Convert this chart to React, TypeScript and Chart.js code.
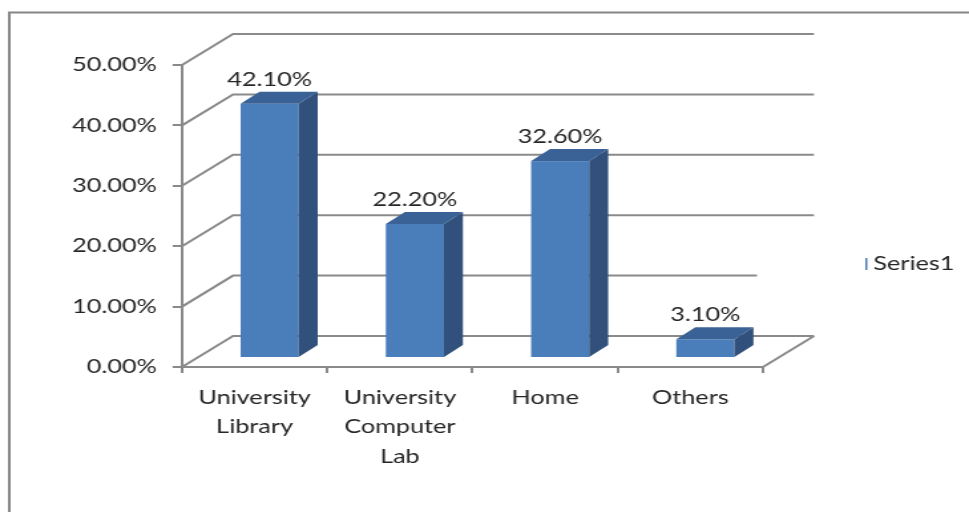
import { useEffect, useRef } from "react";
import { Chart, registerables } from "chart.js";

Chart.register(...registerables);

// Chart content
const categories: string[][] = [
  ["University", "Library"],
  ["University", "Computer", "Lab"],
  ["Home"],
  ["Others"],
];
const values: number[] = [42.1, 22.2, 32.6, 3.1];
const seriesName = "Series1";
const yMin = 0;
const yMax = 50;
const yStep = 10;

// Drawing surface: drawn narrow and widened by CSS to give the wide lettering
const CANVAS_W = 729;
const CANVAS_H = 512;
const VIEW_W = 969;
const SX = VIEW_W / CANVAS_W;

const GRID = "#8a8a8a";
const TEXT = "#262626";
const FRONT = "#4a7ebb";
const SIDE = "#31507b";
const TOP = "#3b6296";
const FONT = { family: "Lato", size: 19 };

// Perspective offsets (canvas units)
const WALL_DX = 51 / SX;
const WALL_DY = -31;
const BAR_DX = 15 / SX;
const BAR_DY = -9;
const DEPTH_DX = 19 / SX;
const DEPTH_DY = -12;

const fmtPct = (v: number) => v.toFixed(2) + "%";

const excel3d = {
  id: "excel3d",
  beforeDraw(chart: any) {
    const ctx = chart.ctx;
    ctx.save();
    ctx.fillStyle = "#ffffff";
    ctx.fillRect(0, 0, chart.width, chart.height);
    // chart frame
    ctx.strokeStyle = "#868686";
    ctx.lineWidth = 2;
    ctx.beginPath();
    ctx.moveTo(7, chart.height + 2);
    ctx.lineTo(7, 12.5);
    ctx.lineTo(chart.width + 2, 12.5);
    ctx.stroke();
    ctx.restore();
  },
  beforeDatasetsDraw(chart: any) {
    const ctx = chart.ctx;
    const { left, right, bottom } = chart.chartArea;
    const y = chart.scales.y;
    ctx.save();
    ctx.strokeStyle = GRID;
    ctx.lineWidth = 2;
    ctx.lineCap = "butt";
    // back wall gridlines and their diagonals to the front axis
    for (let v = yMin; v <= yMax; v += yStep) {
      const py = y.getPixelForValue(v);
      const backRight = v === 10 ? right - 4.5 : right + WALL_DX;
      ctx.beginPath();
      ctx.moveTo(left, py);
      ctx.lineTo(left + WALL_DX, py + WALL_DY);
      ctx.lineTo(backRight, py + WALL_DY);
      ctx.stroke();
    }
    // floor's right edge
    ctx.beginPath();
    ctx.moveTo(right, bottom);
    ctx.lineTo(right + WALL_DX, bottom + WALL_DY);
    ctx.stroke();

    // 3D bars
    const meta = chart.getDatasetMeta(0);
    meta.data.forEach((el: any, i: number) => {
      const w = el.width;
      const l = el.x - w / 2 + BAR_DX;
      const r = el.x + w / 2 + BAR_DX;
      const t = el.y + BAR_DY;
      const b = el.base + BAR_DY;
      ctx.fillStyle = FRONT;
      ctx.fillRect(l, t, r - l, b - t);
      ctx.fillStyle = SIDE;
      ctx.beginPath();
      ctx.moveTo(r, t);
      ctx.lineTo(r + DEPTH_DX, t + DEPTH_DY);
      ctx.lineTo(r + DEPTH_DX, b + DEPTH_DY);
      ctx.lineTo(r, b);
      ctx.closePath();
      ctx.fill();
      ctx.fillStyle = TOP;
      ctx.beginPath();
      ctx.moveTo(l, t);
      ctx.lineTo(l + DEPTH_DX, t + DEPTH_DY);
      ctx.lineTo(r + DEPTH_DX, t + DEPTH_DY);
      ctx.lineTo(r, t);
      ctx.closePath();
      ctx.fill();

      // value label
      ctx.fillStyle = TEXT;
      ctx.font = `${FONT.size}px ${FONT.family}`;
      ctx.textAlign = "center";
      ctx.textBaseline = "middle";
      ctx.fillText(fmtPct(values[i]), el.x + BAR_DX, t - 24);
    });
    ctx.restore();
    return false;
  },
  afterDraw(chart: any) {
    const ctx = chart.ctx;
    const ds = chart.data.datasets[0];
    ctx.save();
    // legend
    const lx = 651;
    const ly = 264;
    ctx.fillStyle = ds.backgroundColor;
    ctx.fillRect(lx, ly - 6, 1.5, 12);
    ctx.fillStyle = TEXT;
    ctx.font = `${FONT.size}px ${FONT.family}`;
    ctx.textAlign = "left";
    ctx.textBaseline = "middle";
    ctx.fillText(ds.label, lx + 6, ly);
    ctx.restore();
  },
};

export default function App() {
  const ref = useRef<HTMLCanvasElement>(null);

  useEffect(() => {
    if (!ref.current) return;
    const chart = new Chart(ref.current, {
      type: "bar",
      data: {
        labels: categories,
        datasets: [
          {
            label: seriesName,
            data: values,
            backgroundColor: FRONT,
            barPercentage: 0.4,
            categoryPercentage: 1,
          },
        ],
      },
      options: {
        responsive: false,
        animation: false,
        devicePixelRatio: 1,
        layout: { padding: { top: 65, left: 0, right: CANVAS_W - 763 / SX, bottom: 0 } },
        plugins: { legend: { display: false }, tooltip: { enabled: false } },
        scales: {
          x: {
            type: "category",
            offset: true,
            grid: {
              display: true,
              offset: true,
              drawOnChartArea: false,
              drawTicks: true,
              tickLength: 6,
              color: GRID,
              lineWidth: 2,
            },
            border: { display: true, color: GRID, width: 2 },
            ticks: {
              color: TEXT,
              font: { ...FONT, lineHeight: 1.55 },
              padding: 10,
              maxRotation: 0,
              autoSkip: false,
            },
            afterFit: (s: any) => {
              s.height = CANVAS_H - 367;
            },
          },
          y: {
            type: "linear",
            min: yMin,
            max: yMax,
            ticks: {
              stepSize: yStep,
              color: TEXT,
              font: FONT,
              padding: 12,
              callback: (v: any) => fmtPct(Number(v)),
            },
            grid: {
              display: true,
              drawOnChartArea: false,
              drawTicks: true,
              tickLength: 7,
              color: GRID,
              lineWidth: 2,
            },
            border: { display: true, color: GRID, width: 2 },
            afterFit: (s: any) => {
              s.width = 182 / SX;
            },
          },
        },
      },
      plugins: [excel3d],
    });
    return () => chart.destroy();
  }, []);

  return (
    <div style={{ position: "fixed", left: 0, top: 0, width: VIEW_W, height: CANVAS_H, background: "#fff" }}>
      <canvas
        ref={ref}
        width={CANVAS_W}
        height={CANVAS_H}
        style={{ width: VIEW_W + "px", height: CANVAS_H + "px", display: "block" }}
      />
    </div>
  );
}
